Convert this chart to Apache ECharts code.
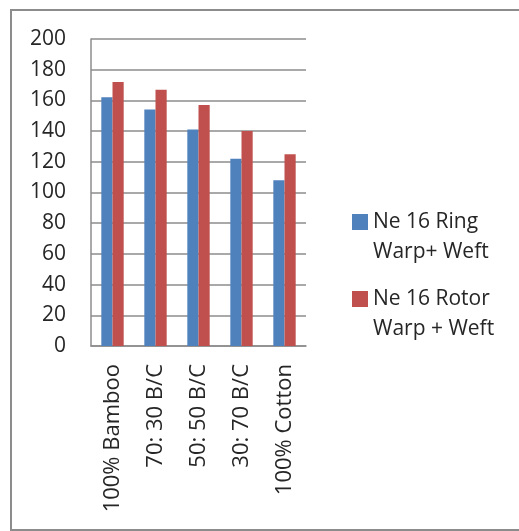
<!DOCTYPE html>
<html>
<head>
<meta charset="utf-8">
<script src="https://cdn.jsdelivr.net/npm/echarts@6/dist/echarts.min.js"></script>
<style>
html,body{margin:0;padding:0;background:#fff;}
#chart{width:519px;height:531px;}
</style>
</head>
<body>
<div id="chart"></div>
<script>
const categories = ['100% Bamboo', '70: 30 B/C', '50: 50 B/C', '30: 70 B/C', '100% Cotton'];
const ringValues = [162, 154, 141, 122, 108];
const rotorValues = [172, 167, 157, 140, 125];
const seriesNames = ['Ne 16 Ring\nWarp+ Weft', 'Ne 16 Rotor\nWarp + Weft'];
const yTicks = { min: 0, max: 200, interval: 20 };

const FONT = 'Open Sans';
const chart = echarts.init(document.getElementById('chart'), null, { renderer: 'canvas' });
chart.setOption({
  backgroundColor: '#ffffff',
  animation: false,
  graphic: [{
    type: 'rect',
    shape: { x: 11, y: 10, width: 530, height: 520 },
    style: { fill: 'none', stroke: '#8c8c8c', lineWidth: 2 },
    silent: true
  }],
  grid: { left: 91, top: 39, right: 213, bottom: 185, containLabel: false },
  legend: {
    orient: 'vertical',
    left: 347,
    top: 172,
    itemWidth: 16,
    itemHeight: 16,
    itemGap: -13,
    icon: 'rect',
    formatter: function (name) { return '\n' + name; },
    textStyle: {
      fontFamily: FONT, fontSize: 21, color: '#262626', lineHeight: 30
    },
    data: seriesNames
  },
  xAxis: {
    type: 'category',
    data: categories,
    axisLine: { show: true, lineStyle: { color: '#8c8c8c', width: 1.5 } },
    axisTick: { show: false },
    axisLabel: {
      rotate: 90, margin: 18, interval: 0,
      fontFamily: FONT, fontSize: 22, color: '#262626'
    }
  },
  yAxis: {
    type: 'value',
    min: yTicks.min, max: yTicks.max, interval: yTicks.interval,
    axisLine: { show: true, lineStyle: { color: '#8c8c8c', width: 1.5 } },
    axisTick: { show: false },
    splitLine: { show: true, lineStyle: { color: '#8c8c8c', width: 1.5 } },
    axisLabel: { margin: 25, fontFamily: FONT, fontSize: 21, color: '#262626' }
  },
  series: [
    { name: seriesNames[0], type: 'bar', data: ringValues, barGap: '0%', barCategoryGap: '48%',
      itemStyle: { color: '#4f81bd' } },
    { name: seriesNames[1], type: 'bar', data: rotorValues, barGap: '0%', barCategoryGap: '48%',
      itemStyle: { color: '#c0504d' } }
  ]
});
</script>
</body>
</html>
